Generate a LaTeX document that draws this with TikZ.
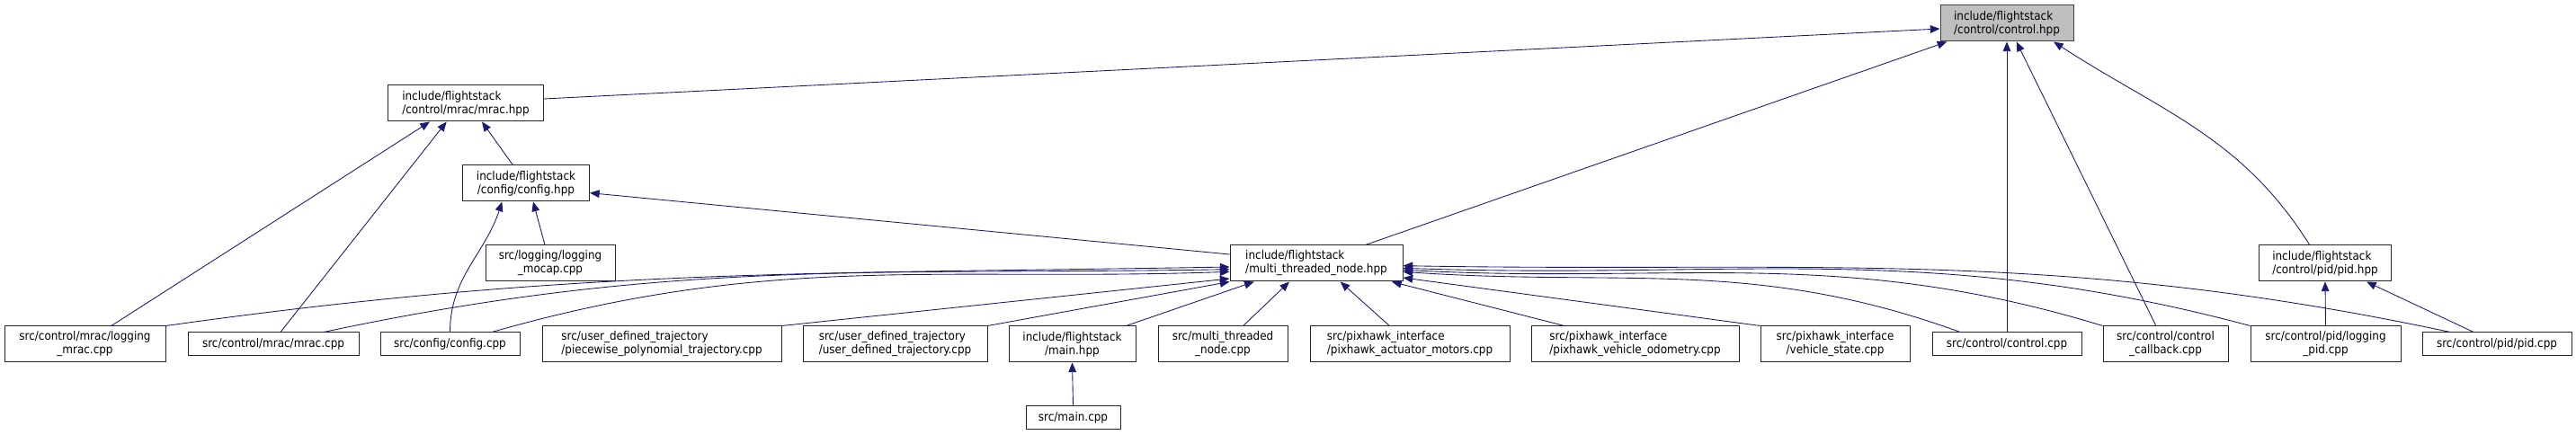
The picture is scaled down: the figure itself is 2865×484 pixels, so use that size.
\documentclass[tikz,border=0pt]{standalone}
\usepackage{fontspec}
\setmainfont{DejaVu Sans Condensed}
\usetikzlibrary{arrows.meta,calc}
\definecolor{dxEdge}{RGB}{25,25,112}
\definecolor{dxGray}{RGB}{191,191,191}
\definecolor{dxLine}{RGB}{64,64,64}
\tikzset{
  file/.style={draw=black!85, fill=white, line width=0.75pt, inner xsep=2pt, inner ysep=1pt,
    minimum height=30pt, font=\fontsize{10}{11.25}\selectfont},
  file1/.style={file, minimum height=19.5pt},
  wd/.style={minimum width=#1*0.75pt},
  dep/.style={draw=dxEdge, line width=0.65pt, {Triangle[length=8pt,width=6.5pt]}-}
}

\begin{document}
\begin{tikzpicture}[x=0.75pt, y=0.75pt]
  \useasboundingbox (0,0) rectangle (2865,484);

  % headers
  \node[file, fill=dxGray, draw=dxLine, align=left, wd=148] (ctrlh) at (2232,458) {include/flightstack\\/control/control.hpp};
  \node[file, align=left, wd=173] (mrach) at (518,369) {include/flightstack\\/control/mrac/mrac.hpp};
  \node[file, align=center, wd=141] (configh) at (585,280) {include/flightstack\\/config/config.hpp};
  \node[file, align=center, wd=144] (mocap) at (612,191) {src/logging/logging\\\_mocap.cpp};
  \node[file, align=left, wd=192] (multih) at (1464,191) {include/flightstack\\/multi\_threaded\_node.hpp};
  \node[file, align=left, wd=147] (pidh) at (2586,191) {include/flightstack\\/control/pid/pid.hpp};

  % bottom row
  \node[file, align=center, wd=179] (logmrac) at (94.5,101) {src/control/mrac/logging\\\_mrac.cpp};
  \node[file1, wd=190] (mraccpp) at (304,101) {src/control/mrac/mrac.cpp};
  \node[file1, wd=155] (configcpp) at (500.5,101) {src/config/config.cpp};
  \node[file, align=left, wd=266] (piecewise) at (736,101) {src/user\_defined\_trajectory\\/piecewise\_polynomial\_trajectory.cpp};
  \node[file, align=left, wd=205] (userdef) at (995.5,101) {src/user\_defined\_trajectory\\/user\_defined\_trajectory.cpp};
  \node[file, align=center, wd=141] (mainh) at (1192.5,101) {include/flightstack\\/main.hpp};
  \node[file, align=center, wd=144] (multicpp) at (1360,101) {src/multi\_threaded\\\_node.cpp};
  \node[file, align=left, wd=222] (actuator) at (1568,101) {src/pixhawk\_interface\\/pixhawk\_actuator\_motors.cpp};
  \node[file, align=left, wd=231] (odometry) at (1818.5,101) {src/pixhawk\_interface\\/pixhawk\_vehicle\_odometry.cpp};
  \node[file, align=center, wd=166] (vstate) at (2041,101) {src/pixhawk\_interface\\/vehicle\_state.cpp};
  \node[file1, wd=166] (ctrlcpp) at (2232,101) {src/control/control.cpp};
  \node[file, align=center, wd=139] (callback) at (2408.5,101) {src/control/control\\\_callback.cpp};
  \node[file, align=center, wd=167] (logpid) at (2586.5,101) {src/control/pid/logging\\\_pid.cpp};
  \node[file1, wd=166] (pidcpp) at (2777,101) {src/control/pid/pid.cpp};
  \node[file1, wd=105] (maincpp) at (1193.5,19) {src/main.cpp};

  % control.hpp
  \draw[dep] ([yshift=-4.5pt]ctrlh.west) -- ([yshift=3.75pt]mrach.east);
  \draw[dep] ([xshift=-50pt]ctrlh.south) -- ([xshift=41pt]multih.north);
  \draw[dep] (ctrlh.south) -- (ctrlcpp.north);
  \draw[dep] ([xshift=8pt]ctrlh.south) -- ([xshift=-8pt]callback.north);
  \draw[dep] ([xshift=39pt]ctrlh.south) to[out=-33,in=122] ([xshift=-13pt]pidh.north);

  % mrac.hpp and config.hpp
  \draw[dep] ([xshift=-30pt]mrach.south) -- ([xshift=22pt]logmrac.north);
  \draw[dep] ([xshift=-16pt]mrach.south) -- ([xshift=6pt]mraccpp.north);
  \draw[dep] ([xshift=13.5pt]mrach.south) -- ([xshift=-11pt]configh.north);
  \draw[dep] ([xshift=-20pt]configh.south) to[out=-108,in=90] (configcpp.north);
  \draw[dep] ([xshift=6pt]configh.south) -- ([xshift=-4.5pt]mocap.north);
  \draw[dep] ([yshift=-8pt]configh.east) -- ([yshift=7.5pt]multih.west);

  % multi_threaded_node.hpp
  \draw[dep] ([yshift=-3pt]multih.west) to[out=181,in=8] (logmrac.north east);
  \draw[dep] ([yshift=-5pt]multih.west) to[out=181,in=12] ([xshift=42pt]mraccpp.north);
  \draw[dep] ([yshift=-7pt]multih.west) to[out=182,in=16] ([xshift=35pt]configcpp.north);
  \draw[dep] ([yshift=-12.75pt]multih.west) -- (piecewise.north east);
  \draw[dep] (multih.south west) -- (userdef.north east);
  \draw[dep] ([xshift=-52pt]multih.south) -- ([xshift=45pt]mainh.north);
  \draw[dep] ([xshift=-22.5pt]multih.south) -- ([xshift=17pt]multicpp.north);
  \draw[dep] ([xshift=20pt]multih.south) -- ([xshift=-17pt]actuator.north);
  \draw[dep] ([xshift=63pt]multih.south) -- ([xshift=-59pt]odometry.north);
  \draw[dep] ([yshift=-12pt]multih.east) -- (vstate.north west);
  \draw[dep] ([yshift=-7pt]multih.east) to[out=-4,in=160] ([xshift=-39pt]ctrlcpp.north);
  \draw[dep] ([yshift=-5.5pt]multih.east) to[out=-3,in=163] (callback.north west);
  \draw[dep] ([yshift=-4pt]multih.east) to[out=-2,in=165] (logpid.north west);
  \draw[dep] ([yshift=-2pt]multih.east) to[out=-1,in=168] ([xshift=-39pt]pidcpp.north);

  % pid.hpp and main.hpp
  \draw[dep] (pidh.south) -- (logpid.north);
  \draw[dep] ([xshift=34.5pt]pidh.south) -- ([xshift=-19.5pt]pidcpp.north);
  \draw[dep] (mainh.south) -- (maincpp.north);
\end{tikzpicture}
\end{document}
